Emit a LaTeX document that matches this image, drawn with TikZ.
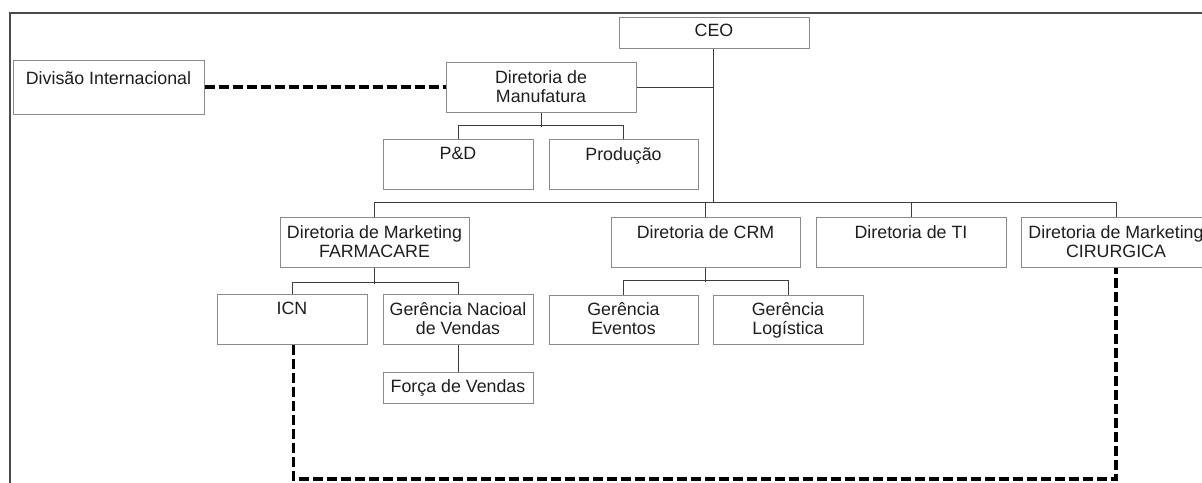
\documentclass[tikz,border=0pt]{standalone}
\usepackage{fontspec}
\setmainfont{Liberation Sans}
\definecolor{boxgray}{HTML}{8A8A8A}
\definecolor{linegray}{HTML}{3C3C3C}
\definecolor{framegray}{HTML}{4A4A4A}
\definecolor{txtcol}{HTML}{1E1E1E}
\begin{document}
\begin{tikzpicture}[x=1pt,y=-1pt,
  box/.style={draw=boxgray, line width=1pt, rectangle, inner sep=0pt, fill=white},
  txt/.style={anchor=north, inner sep=0pt, align=center, font=\fontsize{17.8}{19}\selectfont, text=txtcol},
  conn/.style={draw=linegray, line width=1pt},
  dashline/.style={draw=black, line width=3.5pt, dash pattern=on 10pt off 4pt},
  frame/.style={draw=framegray, line width=2pt}]
\useasboundingbox (0,0) rectangle (1202,482);
\fill[white] (0,0) rectangle (1202,482);
% frame
\draw[frame] (1203,13) -- (10,13) -- (10,483);
% boxes
\node[box, minimum width=190pt, minimum height=31pt] (ceo) at (714,32.5) {};
\node[box, minimum width=191pt, minimum height=54pt] (div) at (108.5,87) {};
\node[box, minimum width=190pt, minimum height=50pt] (man) at (541,87) {};
\node[box, minimum width=150pt, minimum height=50pt] (pd) at (458,164) {};
\node[box, minimum width=149pt, minimum height=50pt] (prod) at (623.5,164) {};
\node[box, minimum width=189pt, minimum height=50pt] (farm) at (374.5,242) {};
\node[box, minimum width=189pt, minimum height=50pt] (crm) at (705.5,242) {};
\node[box, minimum width=190pt, minimum height=50pt] (ti) at (911,242) {};
\node[box, minimum width=190pt, minimum height=50pt] (cir) at (1116,242) {};
\node[box, minimum width=150pt, minimum height=50pt] (icn) at (292,319) {};
\node[box, minimum width=150pt, minimum height=50pt] (gnv) at (458,319) {};
\node[box, minimum width=150pt, minimum height=31pt] (fv) at (458,387.5) {};
\node[box, minimum width=149pt, minimum height=49pt] (gev) at (623.5,319.5) {};
\node[box, minimum width=150pt, minimum height=49pt] (glog) at (788,319.5) {};
% texts
\node[txt] (ceot) at ([yshift=-7.3pt]ceo.north) {CEO};
\node[txt] (divt) at ([yshift=-12.3pt]div.north) {Divisão Internacional};
\node[txt] (mant) at ([yshift=-8.5pt]man.north) {Diretoria de\\Manufatura};
\node[txt] (pdt) at ([yshift=-8.5pt]pd.north) {P\&D};
\node[txt] (prodt) at ([yshift=-8.5pt]prod.north) {Produção};
\node[txt] (farmt) at ([yshift=-8.5pt]farm.north) {Diretoria de Marketing\\FARMACARE};
\node[txt] (crmt) at ([yshift=-8.5pt]crm.north) {Diretoria de CRM};
\node[txt] (tit) at ([yshift=-8.5pt]ti.north) {Diretoria de TI};
\node[txt] (cirt) at ([yshift=-8.5pt]cir.north) {Diretoria de Marketing\\CIRURGICA};
\node[txt] (icnt) at ([yshift=-8.5pt]icn.north) {ICN};
\node[txt] (gnvt) at ([yshift=-8.5pt]gnv.north) {Gerência Nacioal\\de Vendas};
\node[txt] (fvt) at ([yshift=-8pt]fv.north) {Força de Vendas};
\node[txt] (gevt) at ([yshift=-8pt]gev.north) {Gerência\\Eventos};
\node[txt] (glogt) at ([yshift=-8pt]glog.north) {Gerência\\Logística};
% connectors
\coordinate (bus) at (713,203);
\draw[conn] (ceo.south -| bus) -- (bus);
\draw[conn] (man.east) -- (man.east -| bus);
\draw[conn] (farm.north) -- ++(0,-14) -| (cir.north);
\draw[conn] (crm.north) -- (crm.north |- bus);
\draw[conn] (ti.north) -- (ti.north |- bus);
\draw[conn] (man.south) -- ++(0,14);
\draw[conn] (pd.north) -- ++(0,-13) -| (prod.north);
\draw[conn] (farm.south) -- ++(0,16);
\draw[conn] (icn.north) -- ++(0,-11) -| (gnv.north);
\draw[conn] (crm.south) -- ++(0,14);
\draw[conn] (gev.north) -- ++(0,-14) -| (glog.north);
\draw[conn] (gnv.south) -- (fv.north);
% dashed links
\draw[dashline] (div.east) -- (man.west);
\coordinate (dashbot) at (1116,479);
\draw[dashline] ([xshift=1.5pt]icn.south) |- (dashbot) -- (cir.south);
\end{tikzpicture}
\end{document}
